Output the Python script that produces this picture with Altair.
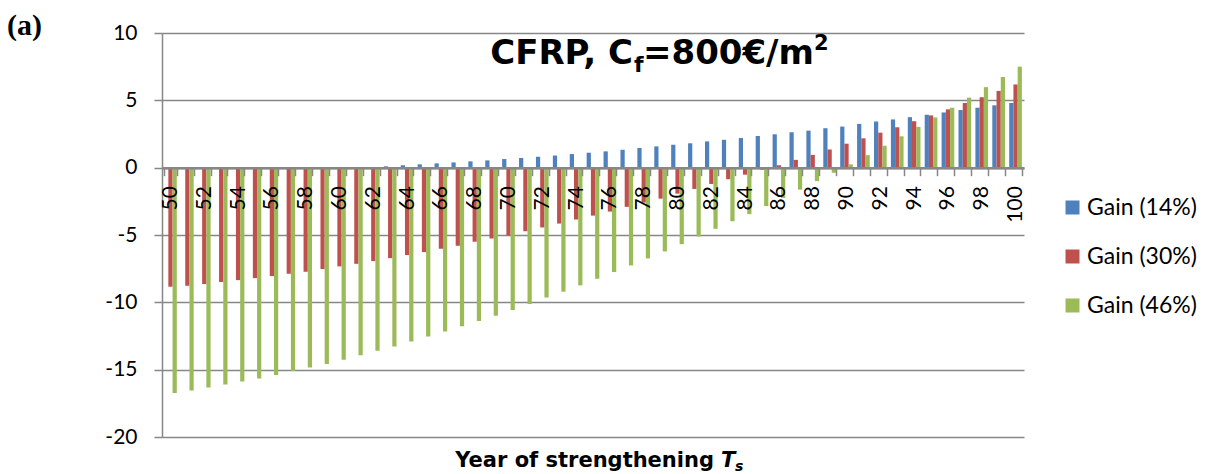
import altair as alt
import pandas as pd

# ---------------- data ----------------
years = list(range(50, 101))

gain14 = [0.0, 0.0, 0.0, 0.0, 0.0, 0.0, 0.0, 0.0, 0.0, 0.0,
          0.0, 0.0, 0.03, 0.1, 0.18, 0.25, 0.32, 0.39, 0.47, 0.54,
          0.64, 0.72, 0.81, 0.9, 1.01, 1.11, 1.21, 1.33, 1.46, 1.58,
          1.7, 1.81, 1.95, 2.07, 2.2, 2.35, 2.48, 2.63, 2.75, 2.93,
          3.05, 3.25, 3.43, 3.58, 3.75, 3.93, 4.1, 4.28, 4.45, 4.63,
          4.8]

gain30 = [-8.84, -8.77, -8.64, -8.49, -8.35, -8.2, -8.05, -7.88, -7.73, -7.53,
          -7.33, -7.14, -6.94, -6.72, -6.49, -6.27, -6.02, -5.8, -5.5, -5.26,
          -5.04, -4.72, -4.44, -4.15, -3.85, -3.56, -3.26, -2.91, -2.59, -2.3,
          -1.93, -1.58, -1.21, -0.86, -0.52, -0.15, 0.18, 0.58, 0.95, 1.35,
          1.78, 2.18, 2.6, 3.0, 3.45, 3.88, 4.33, 4.8, 5.23, 5.7,
          6.18]

gain46 = [-16.74, -16.54, -16.32, -16.1, -15.88, -15.65, -15.4, -15.1, -14.84, -14.57,
          -14.27, -13.93, -13.6, -13.28, -12.9, -12.54, -12.17, -11.78, -11.38, -10.99,
          -10.57, -10.12, -9.65, -9.21, -8.74, -8.25, -7.75, -7.26, -6.74, -6.22,
          -5.68, -5.11, -4.54, -3.98, -3.45, -2.85, -2.25, -1.63, -1.0, -0.38,
          0.25, 0.93, 1.63, 2.33, 3.03, 3.73, 4.45, 5.2, 5.98, 6.73,
          7.5]

series = ["Gain (14%)", "Gain (30%)", "Gain (46%)"]
colors = ["#4F81BD", "#C0504D", "#9BBB59"]
y_ticks = [-20, -15, -10, -5, 0, 5, 10]
y_domain = [-20, 10]

rows = []
for name, vals in zip(series, [gain14, gain30, gain46]):
    for yr, v in zip(years, vals):
        rows.append({"year": yr, "series": name, "gain": v})
df = pd.DataFrame(rows)

# ---------------- layout ----------------
W, H = 862, 404
zero_offset = -H * (0 - y_domain[0]) / (y_domain[1] - y_domain[0])
GRID = "#878787"
BOLD_FONT = "DejaVu Sans"
REG_FONT = "Lato"

bars = alt.Chart(df).mark_bar().encode(
    x=alt.X(
        "year:O",
        scale=alt.Scale(paddingInner=0.25, paddingOuter=0.125),
        axis=alt.Axis(
            orient="bottom", offset=zero_offset, title=None,
            labelAngle=270, labelFont=REG_FONT, labelFontSize=21,
            labelColor="black", labelPadding=10, labelOverlap=False,
            labelExpr="datum.value % 2 == 0 ? datum.label : ''",
            tickBand="extent", tickSize=8, tickColor=GRID, tickWidth=1.5,
            domainColor=GRID, domainWidth=2.5, grid=False, zindex=1,
        ),
    ),
    xOffset=alt.XOffset("series:N", scale=alt.Scale(domain=series, paddingInner=0, paddingOuter=0)),
    y=alt.Y(
        "gain:Q",
        scale=alt.Scale(domain=y_domain, nice=False),
        axis=alt.Axis(
            values=y_ticks, title=None, labelFont=REG_FONT, labelFontSize=21,
            labelColor="black", labelPadding=17, labelExpr="datum.value + ''",
            tickSize=8, tickColor=GRID, tickWidth=1.5,
            domainColor=GRID, domainWidth=1.5,
            grid=True, gridColor=GRID, gridWidth=1.5,
        ),
    ),
    color=alt.Color(
        "series:N",
        scale=alt.Scale(domain=series, range=colors),
        legend=alt.Legend(
            title=None, orient="none", legendX=899, legendY=163,
            symbolType="square", symbolSize=196, symbolStrokeWidth=0,
            labelFont=REG_FONT, labelFontSize=23, labelColor="black",
            labelOffset=3, rowPadding=25, padding=0,
        ),
    ),
)

one = pd.DataFrame({"a": [0]})


def txt(text, x, y, size, align="left", font=BOLD_FONT, weight="bold", style="normal"):
    return alt.Chart(one).mark_text(
        text=text, align=align, baseline="alphabetic", font=font,
        fontSize=size, fontWeight=weight, fontStyle=style, color="black",
    ).encode(x=alt.value(x), y=alt.value(y))


texts = [
    txt("(a)", -155, 2, 30, font="Liberation Serif"),
    txt("CFRP, C", 471, 31, 34, align="right"),
    txt("f", 472, 39, 22),
    txt("=800€/m", 481, 31, 34),
    txt("2", 652, 17, 21),
    txt("Year of strengthening", 552, 434, 21, align="right"),
    txt("T", 559, 434, 21, style="italic"),
    txt("s", 573, 438, 14, style="italic"),
]

chart = alt.layer(bars, *texts).properties(
    width=W, height=H,
    padding={"left": 154, "top": 25, "right": 183, "bottom": 37},
    autosize=alt.AutoSizeParams(type="none"),
).configure_view(strokeWidth=0)

chart.save("out.html", embed_options={"renderer": "svg", "actions": False})
